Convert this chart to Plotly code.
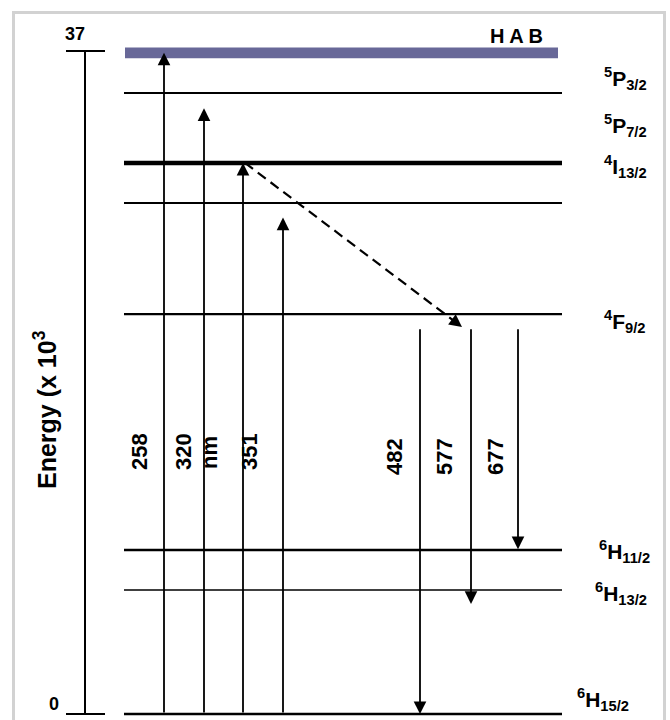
import plotly.graph_objects as go

# ---------------- data (energies in x10^3 cm^-1) ----------------
axis_ticks = [0, 37]
hab_band = [36.6, 37.2]
level_energies = [34.65, 30.75, 28.52, 22.32, 9.15, 6.92, 0.0]
term_labels = ["<sup>5</sup>P<sub>3/2</sub>", "<sup>5</sup>P<sub>7/2</sub>",
               "<sup>4</sup>I<sub>13/2</sub>", "<sup>4</sup>F<sub>9/2</sub>",
               "<sup>6</sup>H<sub>11/2</sub>", "<sup>6</sup>H<sub>13/2</sub>",
               "<sup>6</sup>H<sub>15/2</sub>"]
excitation_nm = ["258", "320", "351", ""]
excitation_top = [36.9, 33.8, 30.75, 27.7]
emission_nm = ["482", "577", "677"]
emission_start = 21.55
emission_end = [0.0, 6.14, 9.2]
relax_from, relax_to = 30.75, 21.6

# ---------------- layout / style ----------------
W, H = 670, 720
PX_PER_UNIT = 17.92
Y0_PX = 714
yr = [-(H - Y0_PX) / PX_PER_UNIT, Y0_PX / PX_PER_UNIT]
def e_at(px):  # vertical pixel -> energy, for label placement
    return (Y0_PX - px) / PX_PER_UNIT

FONT = "Liberation Sans, Arial, sans-serif"
level_x = [124, 562]
level_width = [2, 2, 4.5, 2, 2.2, 2.4, 1.3, 2.6]
exc_x = [164, 204, 243, 283]
exc_label_x = [139, 183, 249, None]
emi_x = [420, 471, 518]
emi_label_x = [394, 444, 495]
label_px_x = [602, 602, 602, 602, 597, 593, 575]
label_px_y = [78, 125, 166, 321, 551, 593, 699]

fig = go.Figure()
shapes = []
ann = []

# frame
shapes.append(dict(type="rect", xref="paper", yref="paper",
                   x0=13.5 / W, x1=664.5 / W, y0=-0.02, y1=1 - 12.5 / H,
                   line=dict(color="#d2d2d2", width=3), fillcolor="rgba(0,0,0,0)", layer="below"))

# energy axis
shapes.append(dict(type="line", xref="x", yref="y", x0=85, x1=85,
                   y0=axis_ticks[0], y1=axis_ticks[1], line=dict(color="black", width=2)))
for t in axis_ticks:
    shapes.append(dict(type="line", xref="x", yref="y", x0=66, x1=105, y0=t, y1=t,
                       line=dict(color="black", width=2)))
ann.append(dict(x=54, y=e_at(704), text="<b>%d</b>" % axis_ticks[0], showarrow=False,
                font=dict(size=18, family=FONT, color="black")))
ann.append(dict(x=75, y=e_at(34), text="<b>%d</b>" % axis_ticks[1], showarrow=False,
                font=dict(size=18, family=FONT, color="black")))
ann.append(dict(x=45, y=e_at(410), text="<b>Energy (x 10<sup>3</sup></b>", showarrow=False,
                textangle=-90, font=dict(size=25, family=FONT, color="black")))

# HAB band
shapes.append(dict(type="rect", xref="x", yref="y", x0=125, x1=558,
                   y0=hab_band[0], y1=hab_band[1], line=dict(width=0), fillcolor="#686898"))
ann.append(dict(x=516, y=e_at(36), text="<b>H A B</b>", showarrow=False,
                font=dict(size=20, family=FONT, color="black")))

# levels
for i, e in enumerate(level_energies):
    shapes.append(dict(type="line", xref="x", yref="y", x0=level_x[0], x1=level_x[1],
                       y0=e, y1=e, line=dict(color="black", width=level_width[i + 1])))
for lab, lx, ly in zip(term_labels, label_px_x, label_px_y):
    ann.append(dict(x=lx, y=e_at(ly), text="<b>" + lab + "</b>", showarrow=False,
                    xanchor="left", font=dict(size=21, family=FONT, color="black")))

# excitation arrows
for x, top in zip(exc_x, excitation_top):
    ann.append(dict(x=x, y=top, ax=x, ay=0, xref="x", yref="y", axref="x", ayref="y",
                    text="", showarrow=True, arrowhead=2, arrowsize=1.4, arrowwidth=1.8,
                    arrowcolor="black", standoff=0, startstandoff=0))
for lab, lx in zip(excitation_nm, exc_label_x):
    if lab and lx:
        ann.append(dict(x=lx, y=e_at(452), text="<b>" + lab + "</b>", showarrow=False,
                        textangle=-90, font=dict(size=22, family=FONT, color="black")))
ann.append(dict(x=209, y=e_at(453), text="<b>nm</b>", showarrow=False, textangle=-90,
                font=dict(size=22, family=FONT, color="black")))

# emission arrows
for x, end in zip(emi_x, emission_end):
    ann.append(dict(x=x, y=end, ax=x, ay=emission_start, xref="x", yref="y", axref="x", ayref="y",
                    text="", showarrow=True, arrowhead=2, arrowsize=1.4, arrowwidth=1.8,
                    arrowcolor="black", standoff=0, startstandoff=0))
for lab, lx in zip(emission_nm, emi_label_x):
    ann.append(dict(x=lx, y=e_at(457), text="<b>" + lab + "</b>", showarrow=False,
                    textangle=-90, font=dict(size=22, family=FONT, color="black")))

# non-radiative relaxation (dashed)
rx0, rx1 = 245, 462
fig.add_trace(go.Scatter(x=[rx0, rx1], y=[relax_from, relax_to], mode="lines",
                         line=dict(color="black", width=2.2, dash="10px,6px"),
                         hoverinfo="skip", showlegend=False))
ann.append(dict(x=rx1, y=relax_to, ax=rx1 - 9.6, ay=relax_to + 7.2 / PX_PER_UNIT,
                xref="x", yref="y", axref="x", ayref="y", text="", showarrow=True,
                arrowhead=2, arrowsize=1.4, arrowwidth=1.8, arrowcolor="black",
                standoff=0, startstandoff=0))

fig.update_layout(
    width=W, height=H, margin=dict(l=0, r=0, t=0, b=0),
    paper_bgcolor="white", plot_bgcolor="white", showlegend=False,
    xaxis=dict(range=[0, W], visible=False, fixedrange=True),
    yaxis=dict(range=yr, visible=False, fixedrange=True),
    shapes=shapes, annotations=ann,
)
fig.write_html("out.html", config={"displayModeBar": False},
               post_script="document.body.style.margin='0';document.body.style.overflow='hidden';")
